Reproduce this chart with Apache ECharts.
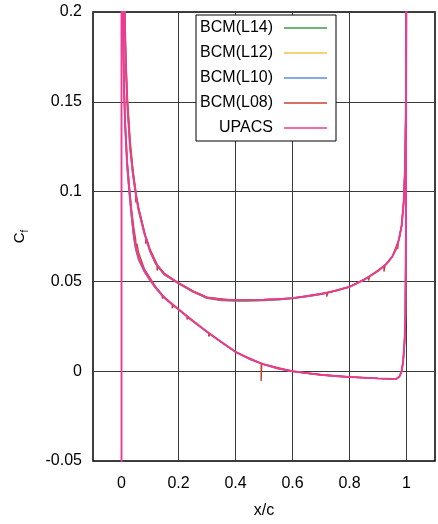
<!DOCTYPE html>
<html><head><meta charset="utf-8">
<script src="https://cdn.jsdelivr.net/npm/echarts@6/dist/echarts.min.js"></script>
<style>html,body{margin:0;padding:0;background:#fff}#c{width:438px;height:524px}</style>
</head><body><div id="c"></div>
<script>
// ---- data ----
const seriesNames = ['BCM(L14)', 'BCM(L12)', 'BCM(L10)', 'BCM(L08)', 'UPACS'];
const xTicks = [0, 0.2, 0.4, 0.6, 0.8, 1];

// upper surface
const xUpper = [0.008, 0.011, 0.015, 0.02, 0.03, 0.04, 0.05, 0.06, 0.08, 0.1, 0.12, 0.15, 0.2, 0.25, 0.3, 0.35, 0.4, 0.45, 0.5, 0.55, 0.6, 0.65, 0.7, 0.75, 0.8, 0.85, 0.9, 0.93, 0.95, 0.965, 0.975, 0.983, 0.99, 0.995, 0.998, 0.9995];
const cfUpperUPACS = [0.23, 0.2, 0.172, 0.15, 0.125, 0.11, 0.099, 0.09, 0.077, 0.067, 0.06, 0.054, 0.049, 0.0445, 0.041, 0.0398, 0.0395, 0.0396, 0.0398, 0.0401, 0.0407, 0.0417, 0.043, 0.0447, 0.047, 0.0508, 0.0558, 0.0598, 0.0638, 0.0685, 0.0745, 0.081, 0.094, 0.114, 0.15, 0.23];
const cfUpperL14 = [0.23, 0.2, 0.171, 0.149, 0.124, 0.109, 0.098, 0.089, 0.0765, 0.0665, 0.0597, 0.0537, 0.0487, 0.0442, 0.0406, 0.0393, 0.039, 0.0391, 0.0393, 0.0397, 0.0404, 0.0415, 0.0428, 0.0446, 0.0469, 0.0507, 0.0557, 0.0597, 0.0637, 0.0684, 0.0744, 0.081, 0.094, 0.114, 0.15, 0.23];
const cfUpperL12 = [0.23, 0.205, 0.178, 0.156, 0.13, 0.113, 0.101, 0.0915, 0.078, 0.0675, 0.0604, 0.0543, 0.0492, 0.0447, 0.0412, 0.0399, 0.0396, 0.0397, 0.0399, 0.0402, 0.0408, 0.0418, 0.0431, 0.0448, 0.0471, 0.0509, 0.0559, 0.0599, 0.0639, 0.0686, 0.0746, 0.0812, 0.0942, 0.114, 0.15, 0.23];
const cfUpperL10 = [0.23, 0.201, 0.173, 0.151, 0.126, 0.1105, 0.0995, 0.0903, 0.0772, 0.0671, 0.0601, 0.0541, 0.0491, 0.0446, 0.0411, 0.0398, 0.0395, 0.0396, 0.0398, 0.0401, 0.0407, 0.0417, 0.043, 0.0447, 0.047, 0.0508, 0.0558, 0.0598, 0.0638, 0.0685, 0.0745, 0.081, 0.094, 0.114, 0.15, 0.23];
const xUpperL08 = [0.008, 0.011, 0.015, 0.02, 0.03, 0.04, 0.05, 0.05, 0.054, 0.06, 0.08, 0.085, 0.085, 0.089, 0.1, 0.125, 0.125, 0.129, 0.15, 0.2, 0.25, 0.3, 0.4, 0.5, 0.6, 0.72, 0.72, 0.724, 0.8, 0.867, 0.867, 0.871, 0.921, 0.921, 0.925, 0.95, 0.969, 0.969, 0.972, 0.983, 0.99, 0.995, 0.998, 0.9995];
const cfUpperL08 = [0.23, 0.2, 0.174, 0.153, 0.128, 0.112, 0.1, 0.094, 0.096, 0.091, 0.078, 0.0745, 0.071, 0.0735, 0.068, 0.0595, 0.056, 0.0585, 0.0545, 0.0492, 0.0447, 0.0411, 0.0395, 0.0398, 0.0407, 0.0437, 0.0415, 0.0438, 0.047, 0.0525, 0.0505, 0.053, 0.0585, 0.0555, 0.059, 0.0638, 0.0715, 0.068, 0.0725, 0.081, 0.094, 0.114, 0.15, 0.23];

// lower surface
const xLower = [0.003, 0.005, 0.008, 0.012, 0.02, 0.028, 0.035, 0.043, 0.05, 0.06, 0.08, 0.1, 0.12, 0.15, 0.2, 0.25, 0.3, 0.35, 0.4, 0.45, 0.5, 0.55, 0.6, 0.65, 0.7, 0.75, 0.8, 0.85, 0.9, 0.95, 0.965, 0.975, 0.982, 0.988, 0.993, 0.996, 0.998, 0.9995];
const cfLowerUPACS = [0.23, 0.2, 0.165, 0.14, 0.115, 0.1, 0.088, 0.076, 0.069, 0.063, 0.056, 0.051, 0.0465, 0.041, 0.0345, 0.028, 0.022, 0.0163, 0.0108, 0.0068, 0.0038, 0.0015, 0.0, -0.0011, -0.002, -0.0027, -0.0032, -0.0036, -0.004, -0.0043, -0.0042, -0.003, -0.0005, 0.005, 0.016, 0.03, 0.08, 0.23];
const cfLowerL14 = [0.23, 0.199, 0.164, 0.139, 0.114, 0.099, 0.0872, 0.0755, 0.0686, 0.0627, 0.0558, 0.0508, 0.0464, 0.0409, 0.0344, 0.0279, 0.0219, 0.0162, 0.0107, 0.0067, 0.0037, 0.0014, -0.0001, -0.0012, -0.0021, -0.0028, -0.0033, -0.0037, -0.0041, -0.0044, -0.0043, -0.0031, -0.0006, 0.005, 0.016, 0.03, 0.08, 0.23];
const cfLowerL12 = [0.23, 0.202, 0.167, 0.142, 0.117, 0.102, 0.09, 0.078, 0.0705, 0.064, 0.0565, 0.0513, 0.0467, 0.0412, 0.0346, 0.0281, 0.0221, 0.0164, 0.0109, 0.0068, 0.0038, 0.0015, 0.0, -0.0011, -0.002, -0.0027, -0.0032, -0.0036, -0.004, -0.0043, -0.0042, -0.003, -0.0005, 0.005, 0.016, 0.03, 0.08, 0.23];
const cfLowerL10 = [0.23, 0.197, 0.162, 0.137, 0.112, 0.097, 0.0855, 0.074, 0.0675, 0.0618, 0.0553, 0.0504, 0.0461, 0.0407, 0.0342, 0.0278, 0.0219, 0.0162, 0.0107, 0.0067, 0.0037, 0.0014, 0.0, -0.0011, -0.002, -0.0027, -0.0032, -0.0036, -0.004, -0.0043, -0.0042, -0.003, -0.0005, 0.005, 0.016, 0.03, 0.08, 0.23];
const xLowerL08 = [0.003, 0.005, 0.008, 0.012, 0.02, 0.028, 0.035, 0.043, 0.05, 0.05, 0.054, 0.06, 0.08, 0.1, 0.12, 0.143, 0.143, 0.147, 0.178, 0.178, 0.182, 0.23, 0.23, 0.234, 0.306, 0.306, 0.31, 0.4, 0.49, 0.49, 0.492, 0.6, 0.7, 0.8, 0.9, 0.95, 0.965, 0.975, 0.982, 0.988, 0.993, 0.996, 0.998, 0.9995];
const cfLowerL08 = [0.23, 0.2, 0.166, 0.142, 0.117, 0.102, 0.09, 0.08, 0.073, 0.069, 0.071, 0.066, 0.057, 0.052, 0.047, 0.0425, 0.0405, 0.042, 0.037, 0.035, 0.0366, 0.0308, 0.0288, 0.0303, 0.0213, 0.0193, 0.0208, 0.0108, 0.0043, -0.0055, 0.0042, 0.0, -0.002, -0.0032, -0.004, -0.0043, -0.0042, -0.003, -0.0005, 0.005, 0.016, 0.03, 0.08, 0.23];

// leading-edge vertical trace of UPACS at x/c = 0
const xLeadingEdge = [0, 0];
const cfLeadingEdge = [-0.06, 0.23];

// ---- styling ----
const colors = {
  'BCM(L14)': '#3f9a4c',
  'BCM(L12)': '#f6c04c',
  'BCM(L10)': '#5b8fd6',
  'BCM(L08)': '#c4452c',
  'UPACS': '#ee3a95'
};
const FONT = 'Liberation Sans, Arial, Helvetica, sans-serif';

function pairs(xs, ys) { return xs.map((x, i) => [x, ys[i]]); }
function line(name, data, width) {
  const c = colors[name];
  return {
    name: name, type: 'line', data: data, showSymbol: false, symbol: 'none',
    color: c, lineStyle: { color: c, width: width }, itemStyle: { color: c },
    clip: true, silent: true, animation: false
  };
}

const series = [];
const gridSeries = line('BCM(L14)', pairs(xUpper, cfUpperL14), 1.4);
gridSeries.markLine = {
  silent: true, z: 1, symbol: ['none', 'none'], label: { show: false },
  lineStyle: { color: '#3a3a3a', width: 1, type: 'solid' },
  data: xTicks.map(v => ({ xAxis: v })), animation: false
};
series.push(gridSeries);
series.push(line('BCM(L14)', pairs(xLower, cfLowerL14), 1.4));
series.push(line('BCM(L12)', pairs(xUpper, cfUpperL12), 1.4));
series.push(line('BCM(L12)', pairs(xLower, cfLowerL12), 1.4));
series.push(line('BCM(L10)', pairs(xUpper, cfUpperL10), 1.4));
series.push(line('BCM(L10)', pairs(xLower, cfLowerL10), 1.4));
series.push(line('BCM(L08)', pairs(xUpperL08, cfUpperL08), 1.4));
series.push(line('BCM(L08)', pairs(xLowerL08, cfLowerL08), 1.4));
series.push(line('UPACS', pairs(xUpper, cfUpperUPACS), 1.9));
series.push(line('UPACS', pairs(xLower, cfLowerUPACS), 1.9));
series.push(line('UPACS', pairs(xLeadingEdge, cfLeadingEdge), 1.9));

const chart = echarts.init(document.getElementById('c'), null, { renderer: 'canvas' });
chart.setOption({
  animation: false,
  textStyle: { fontFamily: FONT },
  grid: { left: 93, right: 0.5, top: 12, bottom: 59, show: true, borderColor: '#000', borderWidth: 1.5, backgroundColor: 'transparent' },
  legend: {
    data: seriesNames, orient: 'vertical', align: 'right',
    left: 196, top: 15, padding: [4, 9, 4, 4],
    itemGap: 7, itemWidth: 43, itemHeight: 1.5, icon: 'rect',
    backgroundColor: '#fff', borderColor: '#000', borderWidth: 1, borderRadius: 0,
    selectedMode: false,
    textStyle: { fontSize: 16, color: '#000', fontFamily: FONT, width: 73, align: 'right', lineHeight: 18, padding: [0, 6, 0, 0] }
  },
  xAxis: {
    type: 'value', min: -0.1, max: 1.1, interval: 0.1,
    name: 'x/c', nameLocation: 'middle', nameGap: 42,
    nameTextStyle: { fontSize: 16, color: '#000', fontFamily: FONT },
    axisLine: { show: false }, axisTick: { show: false }, splitLine: { show: false },
    axisLabel: {
      fontSize: 16, color: '#000', margin: 15, fontFamily: FONT,
      formatter: v => (Math.round(v * 10) % 2 === 0 ? String(Math.round(v * 10) / 10) : '')
    }
  },
  yAxis: {
    type: 'value', min: -0.05, max: 0.2, interval: 0.05,
    name: '{c|C}{s|f}', nameLocation: 'middle', nameGap: 66, nameRotate: 90,
    nameTextStyle: {
      color: '#000', fontFamily: FONT,
      rich: {
        c: { fontSize: 15, color: '#000', fontFamily: FONT },
        s: { fontSize: 10, color: '#000', fontFamily: FONT, verticalAlign: 'bottom', padding: [0, 0, -3, 0] }
      }
    },
    axisLine: { show: false }, axisTick: { show: false },
    splitLine: { show: true, lineStyle: { color: '#3a3a3a', width: 1 } },
    axisLabel: { fontSize: 16, color: '#000', margin: 11, fontFamily: FONT }
  },
  series: series
});
</script></body></html>
